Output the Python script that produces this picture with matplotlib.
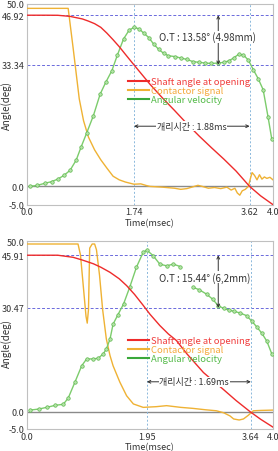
import matplotlib
matplotlib.use("Agg")
import matplotlib.pyplot as plt
import numpy as np
from matplotlib.lines import Line2D

plt.rcParams['font.family'] = ['Noto Sans CJK KR', 'DejaVu Sans']

# ---- top panel data ----
t_red1 = [0, 0.3, 0.5, 0.7, 0.9, 1.0, 1.1, 1.2, 1.3, 1.4, 1.5, 1.6, 1.74, 2.0, 2.2, 2.4,
          2.6, 2.8, 3.0, 3.2, 3.4, 3.62, 3.8, 4.0]
red1 = [46.92, 46.92, 46.9, 46.6, 45.9, 45.3, 44.6, 43.6, 42.0, 40.2, 38.3, 36.2, 33.3, 28.0,
        24.3, 20.8, 17.2, 13.8, 10.6, 7.5, 4.2, 0.0, -2.6, -5.0]

t_or1 = [0, 0.67, 0.75, 0.85, 0.92, 1.0, 1.1, 1.2, 1.3, 1.4, 1.5, 1.6, 1.74, 1.85, 1.95, 2.0,
         2.2, 2.4, 2.5, 2.6, 2.7, 2.78, 2.85, 2.95, 3.05, 3.15, 3.25, 3.32, 3.38, 3.42, 3.46,
         3.5, 3.55, 3.6, 3.63, 3.66, 3.7, 3.74, 3.78, 3.82, 3.86, 3.9, 3.95, 4.0]
or1 = [48.8, 48.8, 38.0, 24.0, 18.0, 13.5, 10.0, 7.3, 5.0, 2.8, 1.8, 1.2, 0.6, 0.7, 0.2, 0.0,
       -0.2, -0.5, -0.8, -0.6, -0.1, 0.3, 0.0, -0.5, -0.3, -0.6, -0.2, -1.0, -0.5, -1.8, -2.4,
       -1.2, -0.8, 0.0, 2.0, 3.8, 3.0, 1.8, 3.2, 2.0, 2.6, 2.2, 2.5, 1.8]

t_gr1 = [0.05, 0.17, 0.3, 0.4, 0.5, 0.6, 0.7, 0.8, 0.88, 0.97, 1.08, 1.19, 1.28, 1.38, 1.47,
         1.57, 1.66, 1.74, 1.82, 1.9, 1.98, 2.06, 2.14, 2.22, 2.3, 2.4, 2.5, 2.6, 2.7, 2.8,
         2.9, 3.0, 3.1, 3.2, 3.28, 3.36, 3.44, 3.52, 3.6, 3.68, 3.76, 3.84, 3.92, 3.98]
gr1 = [0.0, 0.3, 0.9, 1.3, 2.0, 3.0, 4.4, 7.2, 10.8, 14.6, 19.4, 25.3, 28.5, 31.7, 36.0,
       40.4, 42.8, 43.6, 43.2, 42.0, 40.8, 39.0, 37.6, 36.5, 35.8, 35.6, 35.2, 34.8, 34.2,
       34.0, 33.8, 33.7, 33.8, 34.0, 34.4, 35.2, 36.2, 36.0, 34.6, 32.0, 29.5, 26.5, 19.0, 13.0]

# ---- bottom panel data ----
t_red2 = [0, 0.5, 0.75, 0.9, 1.08, 1.2, 1.35, 1.5, 1.62, 1.75, 1.89, 2.0, 2.16, 2.3, 2.43,
          2.6, 2.87, 3.0, 3.19, 3.4, 3.63, 3.8, 4.0]
red2 = [45.91, 45.91, 45.3, 44.5, 43.4, 42.4, 40.9, 39.0, 37.0, 34.4, 31.2, 28.6, 25.3, 22.8,
        20.9, 17.0, 11.5, 9.5, 6.6, 3.3, 0.0, -2.2, -4.5]

t_or2 = [0, 0.83, 0.87, 0.92, 0.96, 0.98, 1.0, 1.02, 1.06, 1.1, 1.13, 1.18, 1.23, 1.29, 1.35,
         1.4, 1.51, 1.62, 1.73, 1.89, 2.1, 2.27, 2.5, 2.7, 2.9, 3.08, 3.2, 3.3, 3.36, 3.45,
         3.52, 3.6, 3.68, 3.8, 4.0]
or2 = [49.2, 49.2, 46.0, 36.0, 28.0, 26.0, 30.0, 48.0, 49.2, 49.2, 47.5, 40.0, 30.0, 21.4,
       16.5, 13.5, 8.7, 4.7, 2.3, 1.3, 1.5, 1.8, 1.3, 1.0, 0.6, 0.3, -0.3, -1.2, -2.1, -2.4,
       -2.1, -1.0, 0.3, 0.4, 0.5]

t_gr2 = [0.05, 0.19, 0.32, 0.46, 0.59, 0.67, 0.78, 0.89, 0.97, 1.07, 1.16, 1.24, 1.29, 1.35,
         1.4, 1.48, 1.57, 1.67, 1.78, 1.89, 1.95, 2.05, 2.16, 2.27, 2.38, 2.49, 2.6, 2.70,
         2.8, 2.92, 3.02, 3.11, 3.2, 3.28, 3.36, 3.46, 3.57, 3.66, 3.74, 3.82, 3.9, 3.98]
gr2 = [0.5, 0.8, 1.3, 1.9, 2.2, 4.0, 8.7, 13.5, 15.5, 15.5, 15.7, 17.0, 18.4, 21.3, 25.7,
       28.5, 31.6, 36.5, 42.4, 46.8, 47.4, 45.8, 43.3, 42.8, 43.3, 42.6, np.nan, 36.5, 35.8,
       34.5, 33.0, 31.1, 30.3, 29.8, 29.5, 29.0, 28.2, 26.5, 24.8, 23.0, 20.7, 17.0]

panels = [
    dict(tr=t_red1, r=red1, to=t_or1, o=or1, tg=t_gr1, g=gr1,
         hi=46.92, lo=33.34, t1=1.74, t2=3.62,
         ot="O.T : 13.58° (4.98mm)", ot_x=2.94, ot_y=41.0, arr_x=3.11,
         dt="개리시간 : 1.88ms", dt_x=2.68, dt_y=16.5, leg_y=0.635, ylab_y=0.5,
         pos=[0.097, 0.545, 0.885, 0.444]),
    dict(tr=t_red2, r=red2, to=t_or2, o=or2, tg=t_gr2, g=gr2,
         hi=45.91, lo=30.47, t1=1.95, t2=3.64,
         ot="O.T : 15.44° (6,2mm)", ot_x=2.89, ot_y=39.5, arr_x=3.11,
         dt="개리시간 : 1.69ms", dt_x=2.72, dt_y=8.8, leg_y=0.495, ylab_y=0.46,
         pos=[0.097, 0.049, 0.885, 0.415]),
]

RED = '#ee2b2b'
ORANGE = '#efb234'
GREEN = '#7ccc6c'

fig = plt.figure(figsize=(2.78, 4.52), dpi=100)

for p in panels:
    ax = fig.add_axes(p['pos'])
    ax.set_xlim(0, 4.0)
    ax.set_ylim(-5, 50)

    ax.axhline(0, color='#8a8a8a', lw=1.0, zorder=1)
    for yv in (p['hi'], p['lo']):
        ax.axhline(yv, color='#6a6adc', lw=0.7, ls=(0, (3, 2)), zorder=1)
    for xv in (p['t1'], p['t2']):
        ax.axvline(xv, color='#8ab8dc', lw=0.7, ls=(0, (2, 2)), zorder=1)

    ax.plot(p['to'], p['o'], color=ORANGE, lw=1.0, zorder=3)
    ax.plot(p['tg'], p['g'], color=GREEN, lw=1.0, marker='o', ms=2.5,
            mfc='#b5e3a8', mec='#5cb84c', mew=0.5, zorder=3)
    ax.plot(p['tr'], p['r'], color=RED, lw=1.0, zorder=4)

    ax.set_xticks([0.0, p['t1'], p['t2'], 4.0])
    ax.set_xticklabels(['0.0', f"{p['t1']:.2f}", f"{p['t2']:.2f}", '4.0'])
    ax.set_yticks([-5.0, 0.0, p['lo'], p['hi'], 50.0])
    ax.set_yticklabels(['-5.0', '0.0', f"{p['lo']:.2f}", f"{p['hi']:.2f}", '50.0'])
    ax.tick_params(length=0, labelsize=6.5, colors='#333333', pad=2)
    for s in ax.spines.values():
        s.set_color('#c0c0c0')
        s.set_linewidth(0.8)

    ax.set_xlabel('Time(msec)', fontsize=6.5, color='#333333', labelpad=1)
    ax.set_ylabel('Angle(deg)', fontsize=7, color='#333333', va='center')
    ax.yaxis.set_label_coords(-0.083, p['ylab_y'])

    # O.T arrow
    ax.annotate('', xy=(p['arr_x'], p['hi']), xytext=(p['arr_x'], p['lo']),
                arrowprops=dict(arrowstyle='<->', color='#333333', lw=0.7,
                                shrinkA=0, shrinkB=0, mutation_scale=5), zorder=5)
    ax.text(p['ot_x'], p['ot_y'], p['ot'], fontsize=7, color='#333333', ha='center',
            va='center', zorder=6,
            bbox=dict(facecolor='white', edgecolor='none', pad=0.5))

    # separation time arrow
    ax.annotate('', xy=(p['t1'], p['dt_y']), xytext=(p['t2'], p['dt_y']),
                arrowprops=dict(arrowstyle='<->', color='#333333', lw=0.7,
                                shrinkA=0, shrinkB=0, mutation_scale=5), zorder=5)
    ax.text(p['dt_x'], p['dt_y'], p['dt'], fontsize=6.5, color='#333333', ha='center',
            va='center', zorder=6,
            bbox=dict(facecolor='white', edgecolor='none', pad=0.5))

    handles = [Line2D([], [], color=RED, lw=1.5),
               Line2D([], [], color=ORANGE, lw=1.5),
               Line2D([], [], color='#3aa83a', lw=1.5)]
    labels = ['Shaft angle at opening', 'Contactor signal', 'Angular velocity']
    leg = ax.legend(handles, labels, loc='upper left', bbox_to_anchor=(0.41, p['leg_y']),
                    frameon=False, fontsize=6.8, handlelength=2.2, handletextpad=0.3,
                    labelspacing=0.0, borderpad=0, borderaxespad=0)
    for txt, c in zip(leg.get_texts(), ['#f03c3c', '#f5a83a', '#55bb4a']):
        txt.set_color(c)
    leg.set_zorder(7)

fig.savefig('out.png', dpi=100)
